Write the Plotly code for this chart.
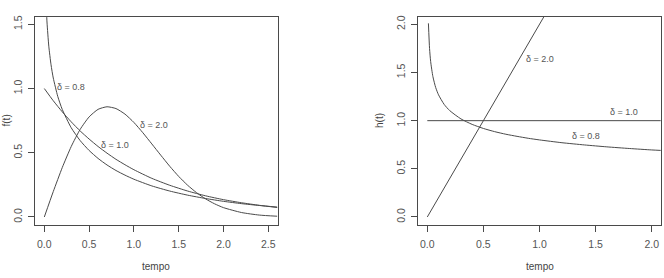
import plotly.graph_objects as go

# ---- Left panel: density f(t) ----
t_f = [0.005, 0.01, 0.02, 0.03, 0.05, 0.075, 0.1, 0.15, 0.2, 0.3, 0.4, 0.5, 0.6, 0.7, 0.8, 0.9,
       1.0, 1.2, 1.4, 1.6, 1.8, 2.0, 2.2, 2.4, 2.6]
f_08 = [2.276, 1.96, 1.675, 1.518, 1.330, 1.185, 1.082, 0.939, 0.838, 0.695, 0.595, 0.518, 0.456,
        0.405, 0.362, 0.326, 0.294, 0.242, 0.202, 0.170, 0.144, 0.122, 0.104, 0.0896, 0.0773]

t_f1 = [0, 0.1, 0.2, 0.3, 0.4, 0.5, 0.6, 0.7, 0.8, 0.9, 1.0, 1.2, 1.4, 1.6, 1.8, 2.0, 2.2, 2.4, 2.6]
f_10 = [1.0, 0.905, 0.819, 0.741, 0.670, 0.607, 0.549, 0.497, 0.449, 0.407, 0.368, 0.301, 0.247,
        0.202, 0.165, 0.135, 0.111, 0.091, 0.074]

t_f2 = [0, 0.1, 0.2, 0.3, 0.4, 0.5, 0.6, 0.7, 0.8, 0.9, 1.0, 1.1, 1.2, 1.3, 1.4, 1.5, 1.6, 1.7,
        1.8, 1.9, 2.0, 2.2, 2.4, 2.6]
f_20 = [0, 0.198, 0.384, 0.548, 0.682, 0.779, 0.838, 0.858, 0.844, 0.801, 0.736, 0.656, 0.569,
        0.481, 0.395, 0.316, 0.247, 0.189, 0.141, 0.103, 0.073, 0.035, 0.015, 0.006]

# ---- Right panel: hazard h(t) ----
t_h08 = [0.01, 0.02, 0.03, 0.05, 0.075, 0.1, 0.15, 0.2, 0.3, 0.4, 0.5, 0.6, 0.7, 0.8, 0.9, 1.0,
         1.2, 1.4, 1.6, 1.8, 2.0, 2.1]
h_08 = [2.010, 1.750, 1.613, 1.457, 1.343, 1.268, 1.169, 1.104, 1.018, 0.961, 0.919, 0.886, 0.859,
        0.837, 0.817, 0.800, 0.771, 0.748, 0.728, 0.711, 0.696, 0.690]
t_h1 = [0, 2.1]
h_10 = [1.0, 1.0]
t_h2 = [0, 1.1]
h_20 = [0, 2.2]

labels = ["δ = 0.8", "δ = 1.0", "δ = 2.0"]
left_lab_x = [0.30, 0.79, 1.22]
left_lab_y = [1.01, 0.56, 0.716]
right_lab_x = [1.41, 1.75, 1.005]
right_lab_y = [0.84, 1.09, 1.64]

C = "#4a4a4a"
FONT = "Liberation Sans, Arial, sans-serif"

fig = go.Figure()
for x, y in [(t_f, f_08), (t_f1, f_10), (t_f2, f_20)]:
    fig.add_trace(go.Scatter(x=x, y=y, mode="lines", xaxis="x", yaxis="y",
                             line=dict(color=C, width=1, shape="spline", smoothing=0.6),
                             showlegend=False, hoverinfo="skip"))
for x, y in [(t_h08, h_08), (t_h1, h_10), (t_h2, h_20)]:
    fig.add_trace(go.Scatter(x=x, y=y, mode="lines", xaxis="x2", yaxis="y2",
                             line=dict(color=C, width=1, shape="spline", smoothing=0.6),
                             showlegend=False, hoverinfo="skip"))

ax = dict(showgrid=False, zeroline=False, showline=True, mirror=True, linecolor=C, linewidth=1,
          ticks="outside", ticklen=6, tickcolor=C, tickwidth=1,
          tickfont=dict(family=FONT, size=10.5, color="#555"), tickformat=".1f")

fig.update_layout(
    width=664, height=278, margin=dict(l=0, r=0, t=0, b=0),
    paper_bgcolor="white", plot_bgcolor="white",
    xaxis=dict(ax, domain=[0.0527, 0.4182], range=[-0.104, 2.605], tickvals=[0, 0.5, 1, 1.5, 2, 2.5],
               anchor="y", ticklabelstandoff=4),
    yaxis=dict(ax, domain=[0.1917, 0.9403], range=[-0.06, 1.56], tickvals=[0, 0.5, 1, 1.5],
               anchor="x", tickangle=-90, ticklabelstandoff=2),
    xaxis2=dict(ax, domain=[0.630, 0.995], range=[-0.08, 2.08], tickvals=[0, 0.5, 1, 1.5, 2],
                anchor="y2", ticklabelstandoff=4),
    yaxis2=dict(ax, domain=[0.1917, 0.9403], range=[-0.08, 2.08], tickvals=[0, 0.5, 1, 1.5, 2],
                anchor="x2", tickangle=-90, ticklabelstandoff=2),
)

af = dict(family=FONT, size=9, color="#555")
annots = []
for lab, x, y in zip(labels, left_lab_x, left_lab_y):
    annots.append(dict(text=lab, x=x, y=y, xref="x", yref="y", showarrow=False, font=af))
for lab, x, y in zip(labels, right_lab_x, right_lab_y):
    annots.append(dict(text=lab, x=x, y=y, xref="x2", yref="y2", showarrow=False, font=af))
tf = dict(family=FONT, size=10, color="#444")
annots += [
    dict(text="tempo", x=156.3 / 664, y=1 - 266 / 278, xref="paper", yref="paper", showarrow=False,
         font=tf, xanchor="center", yanchor="middle"),
    dict(text="tempo", x=539.5 / 664, y=1 - 266 / 278, xref="paper", yref="paper", showarrow=False,
         font=tf, xanchor="center", yanchor="middle"),
    dict(text="h(t)", x=379.5 / 664, y=0.5666, xref="paper", yref="paper", showarrow=False,
         font=tf, textangle=-90, xanchor="center", yanchor="middle"),
    dict(text="f(t)", x=6 / 664, y=0.5666, xref="paper", yref="paper", showarrow=False,
         font=tf, textangle=-90, xanchor="center", yanchor="middle"),
]
fig.update_layout(annotations=annots)

fig.write_html("out.html")
